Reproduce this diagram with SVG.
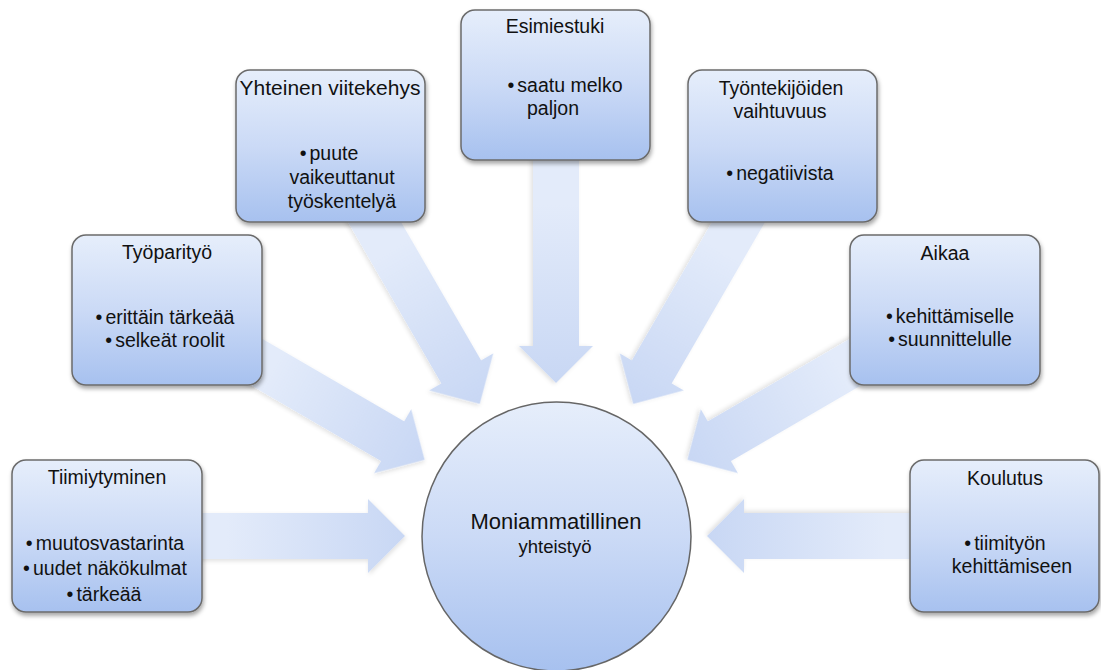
<svg xmlns="http://www.w3.org/2000/svg" width="1101" height="670" viewBox="0 0 1101 670">
<defs>
<linearGradient id="boxg" x1="0" y1="0" x2="0" y2="1">
<stop offset="0" stop-color="#e6eefb"/>
<stop offset="0.5" stop-color="#cbdaf6"/>
<stop offset="1" stop-color="#a7c1ef"/>
</linearGradient>
<linearGradient id="arrg" x1="0" y1="0" x2="1" y2="0">
<stop offset="0.4" stop-color="#e3ebfa"/>
<stop offset="1" stop-color="#c8d7f4"/>
</linearGradient>
<filter id="sh" x="-20%" y="-20%" width="140%" height="140%">
<feDropShadow dx="1" dy="3" stdDeviation="2" flood-color="#000" flood-opacity="0.35"/>
</filter>
<filter id="ash" x="-20%" y="-20%" width="140%" height="140%">
<feDropShadow dx="1" dy="2" stdDeviation="2" flood-color="#000" flood-opacity="0.12"/>
</filter>
<path id="arrow" d="M0,-23 H261 V-37 L298,0 L261,37 V23 H0 Z"/>
</defs>
<style>
.box{fill:url(#boxg);stroke:#6b6b6b;stroke-width:1.5;filter:url(#sh)}
.arr{fill:url(#arrg);filter:url(#ash)}
text{font-family:"Liberation Sans",Arial,sans-serif;fill:#111;text-anchor:middle;font-size:19.5px}
.big{font-size:21px}
.main{font-size:22px}
.sub{font-size:18.5px}
</style>
<rect width="1101" height="670" fill="#ffffff"/>
<g id="connectors">
<use href="#arrow" class="arr" transform="translate(107,536) rotate(0)"/>
<use href="#arrow" class="arr" transform="translate(167,310) rotate(30.18)"/>
<use href="#arrow" class="arr" transform="translate(330.5,146) rotate(59.94)"/>
<use href="#arrow" class="arr" transform="translate(556,85) rotate(90)"/>
<use href="#arrow" class="arr" transform="translate(782.5,146) rotate(120.06)"/>
<use href="#arrow" class="arr" transform="translate(945,310) rotate(149.82)"/>
<use href="#arrow" class="arr" transform="translate(1005,536) rotate(180)"/>
</g>
<g id="node-tiimiytyminen">
<rect class="box" x="12" y="460" width="190" height="152" rx="14"/>
<text x="107" y="484">Tiimiytyminen</text>
<text><tspan x="105" y="550">•<tspan dx="3">muutosvastarinta</tspan></tspan><tspan x="105" y="575">•<tspan dx="3">uudet näkökulmat</tspan></tspan><tspan x="104" y="601">•<tspan dx="3">tärkeää</tspan></tspan></text>
</g>
<g id="node-tyoparityo">
<rect class="box" x="72" y="235" width="190" height="150" rx="14"/>
<text x="167" y="259">Työparityö</text>
<text><tspan x="165" y="324">•<tspan dx="3">erittäin tärkeää</tspan></tspan><tspan x="165" y="347">•<tspan dx="3">selkeät roolit</tspan></tspan></text>
</g>
<g id="node-yhteinen">
<rect class="box" x="236" y="70" width="189" height="152" rx="14"/>
<text class="big" x="330" y="95">Yhteinen viitekehys</text>
<text><tspan x="329" y="160">•<tspan dx="3">puute</tspan></tspan><tspan x="342" y="184">vaikeuttanut</tspan><tspan x="342" y="208">työskentelyä</tspan></text>
</g>
<g id="node-esimiestuki">
<rect class="box" x="461" y="10" width="189" height="150" rx="14"/>
<text x="555" y="33">Esimiestuki</text>
<text><tspan x="565" y="92">•<tspan dx="3">saatu melko</tspan></tspan><tspan x="553" y="115">paljon</tspan></text>
</g>
<g id="node-tyontekijoiden">
<rect class="box" x="688" y="70" width="189" height="152" rx="14"/>
<text><tspan x="781" y="95">Työntekijöiden</tspan><tspan x="780" y="118">vaihtuvuus</tspan></text>
<text x="780" y="180">•<tspan dx="3">negatiivista</tspan></text>
</g>
<g id="node-aikaa">
<rect class="box" x="850" y="235" width="190" height="150" rx="14"/>
<text x="945" y="260">Aikaa</text>
<text><tspan x="950" y="323">•<tspan dx="3">kehittämiselle</tspan></tspan><tspan x="950" y="346">•<tspan dx="3">suunnittelulle</tspan></tspan></text>
</g>
<g id="node-koulutus">
<rect class="box" x="910" y="460" width="189" height="152" rx="14"/>
<text x="1005" y="485">Koulutus</text>
<text><tspan x="1005" y="550">•<tspan dx="3">tiimityön</tspan></tspan><tspan x="1012" y="573">kehittämiseen</tspan></text>
</g>
<g id="node-center">
<circle cx="556.5" cy="536.5" r="134.5" fill="url(#boxg)" stroke="#666" stroke-width="1.5"/>
<text><tspan class="main" x="556" y="529">Moniammatillinen</tspan><tspan class="sub" x="555" y="553">yhteistyö</tspan></text>
</g>
</svg>
